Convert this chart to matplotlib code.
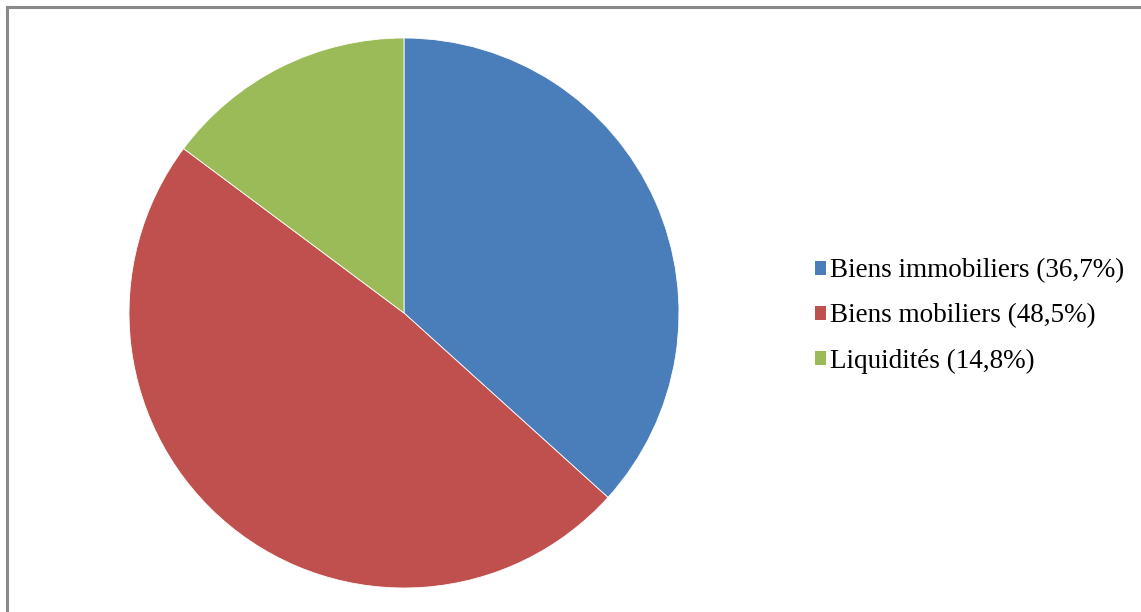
import matplotlib.pyplot as plt
from matplotlib.patches import Patch

labels = ['Biens immobiliers (36,7%)', 'Biens mobiliers (48,5%)', 'Liquidités (14,8%)']
values = [36.7, 48.5, 14.8]
colors = ['#4A7EBB', '#C0504D', '#9BBB59']

plt.rcParams['font.family'] = ['Liberation Serif', 'DejaVu Serif']

fig = plt.figure(figsize=(11.41, 6.12), dpi=100)

# grey frame, only top and left edges are visible in the reference
fig.add_artist(plt.Line2D([7 / 1141, 7 / 1141], [0, 1 - 7 / 612], transform=fig.transFigure,
                          color='#8a8a8a', lw=2.2))
fig.add_artist(plt.Line2D([7 / 1141, 1], [1 - 7 / 612, 1 - 7 / 612], transform=fig.transFigure,
                          color='#8a8a8a', lw=2.2))

ax = fig.add_axes([129 / 1141, 24 / 612, 550 / 1141, 550 / 612])
ax.pie(values, colors=colors, startangle=90, counterclock=False, radius=1,
       wedgeprops=dict(linewidth=0.6, edgecolor='white'))
ax.set_xlim(-1, 1)
ax.set_ylim(-1, 1)
ax.set_aspect('equal')
ax.axis('off')

handles = [Patch(facecolor=c, edgecolor='none') for c in colors]
fig.legend(handles, labels, loc='center left', bbox_to_anchor=(815 / 1141, 1 - 316 / 612),
           frameon=False, fontsize=19.5, handlelength=0.4, handleheight=0.4,
           handletextpad=0.15, labelspacing=0.74, borderpad=0, borderaxespad=0)

fig.savefig('out.png', dpi=100)
